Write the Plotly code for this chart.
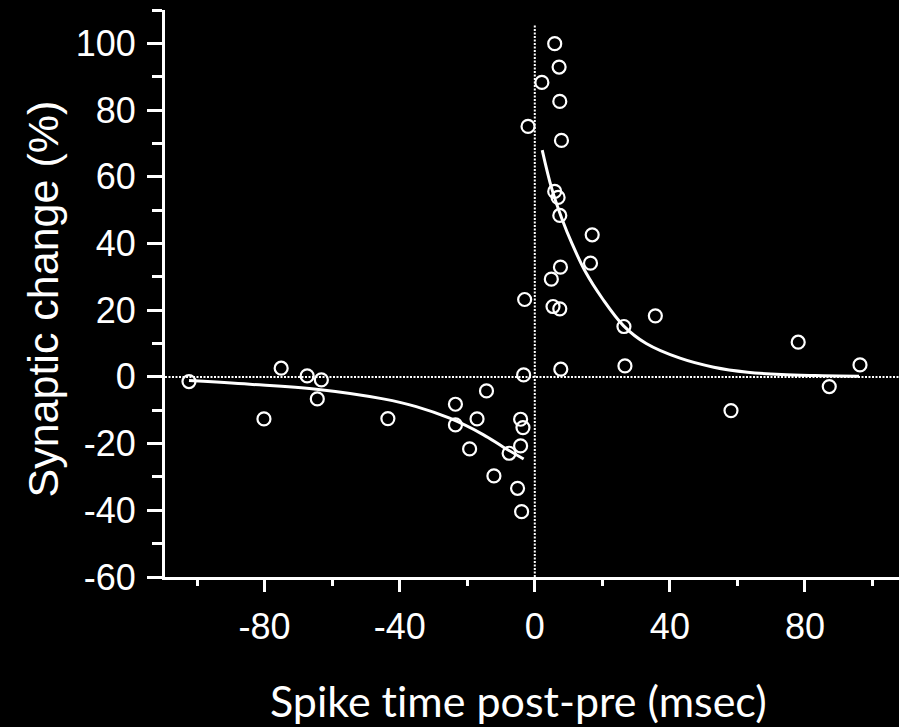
import plotly.graph_objects as go

# Data points (spike time post-pre in ms, synaptic change in %)
pts_x = [-102.4, -80.2, -75.1, -67.4, -64.4, -63.2, -43.5, -23.5, -23.5, -19.3,
         -17.1, -14.3, -12.1, -7.6, -5.1, -4.2, -4.2, -3.5, -3.9, -3.3, -3.0, -2.0,
         2.1, 5.9, 7.2, 7.4, 7.9, 5.9, 6.9, 7.4, 17.0, 16.5, 7.6, 4.9, 5.4, 7.4,
         7.7, 26.4, 26.7, 35.7, 58.1, 78.0, 87.2, 96.3]
pts_y = [-1.4, -12.6, 2.6, 0.3, -6.6, -0.9, -12.5, -8.2, -14.4, -21.6,
         -12.6, -4.2, -29.7, -22.9, -33.4, -20.7, -12.7, -15.2, -40.4, 0.6, 23.2, 75.1,
         88.3, 99.9, 92.9, 82.6, 70.9, 55.6, 53.8, 48.4, 42.6, 34.1, 32.9, 29.3, 21.1, 20.4,
         2.3, 15.1, 3.3, 18.3, -10.1, 10.4, -2.9, 3.6]

# Fitted curves
ltd_x = [-102.4, -84.4, -64.7, -44.9, -35.1, -25.2, -15.3, -9.4, -3.3]
ltd_y = [-1.1, -2.2, -3.7, -6.6, -8.9, -12.4, -17.3, -21.0, -24.6]
ltp_x = [2.2, 5.0, 8.0, 11.0, 15.0, 20.0, 26.3, 33.0, 43.0, 53.0, 63.0, 73.0, 83.0, 96.0]
ltp_y = [68.0, 56.5, 47.5, 40.0, 31.5, 23.5, 15.3, 10.0, 5.6, 2.9, 1.4, 0.7, 0.4, 0.2]

x_major = [-80, -40, 0, 40, 80]
x_labels = ["-80", "-40", "0", "40", "80"]
x_minor = [-100, -60, -20, 20, 60, 100]
y_major = [-60, -40, -20, 0, 20, 40, 60, 80, 100]
y_labels = ["-60", "-40", "-20", "0", "20", "40", "60", "80", "100"]
y_minor = [-50, -30, -10, 10, 30, 50, 70, 90, 110]

x_range = [-109.5, 107.85]
y_range = [-60, 110]

fig = go.Figure()

# reference dotted lines
fig.add_trace(go.Scatter(x=[x_range[0], x_range[1]], y=[0, 0], mode="lines",
                         line=dict(color="white", width=2, dash="2px,1.5px"),
                         hoverinfo="skip", showlegend=False))
fig.add_trace(go.Scatter(x=[0, 0], y=[y_range[0], 105.6], mode="lines",
                         line=dict(color="white", width=2, dash="2px,1.5px"),
                         hoverinfo="skip", showlegend=False))

fig.add_trace(go.Scatter(x=ltd_x, y=ltd_y, mode="lines", line=dict(color="white", width=3, shape="spline"),
                         showlegend=False))
fig.add_trace(go.Scatter(x=ltp_x, y=ltp_y, mode="lines", line=dict(color="white", width=3, shape="spline"),
                         showlegend=False))

fig.add_trace(go.Scatter(x=pts_x, y=pts_y, mode="markers",
                         marker=dict(symbol="circle-open", size=13, color="white", line=dict(width=2.2)),
                         showlegend=False))

tickfont = dict(family="Liberation Sans, Arial, sans-serif", size=36, color="white")

fig.update_xaxes(range=x_range, showgrid=False, zeroline=False, showline=True,
                 linecolor="white", linewidth=3, ticks="outside", tickcolor="white",
                 ticklen=12, tickwidth=2.5, tickvals=x_major, ticktext=x_labels, tickfont=tickfont,
                 minor=dict(ticks="outside", tickvals=x_minor,
                            ticklen=6, tickwidth=2.5, tickcolor="white"),
                 ticklabelstandoff=4)
fig.update_yaxes(range=y_range, showgrid=False, zeroline=False, showline=True,
                 linecolor="white", linewidth=3, ticks="outside", tickcolor="white",
                 ticklen=15, tickwidth=2.5, tickvals=y_major, ticktext=y_labels, tickfont=tickfont,
                 minor=dict(ticks="outside", tickvals=y_minor,
                            ticklen=10, tickwidth=2.5, tickcolor="white"),
                 ticklabelstandoff=4)

fig.add_annotation(text="Synaptic change (%)", xref="paper", yref="paper",
                   x=0, y=0.5, xshift=-123, yshift=-6, textangle=-90, showarrow=False,
                   xanchor="center", yanchor="middle",
                   font=dict(family="Liberation Sans, Arial, sans-serif", size=43, color="white"))
fig.add_annotation(text="Spike t\u200cime post-pre (msec)", xref="paper", yref="paper",
                   x=0.481, y=0, yshift=-123, showarrow=False,
                   xanchor="center", yanchor="middle",
                   font=dict(family="Lato, sans-serif", size=43, color="white"))

fig.update_layout(width=899, height=727, margin=dict(l=165, r=0, t=10, b=150),
                  paper_bgcolor="black", plot_bgcolor="black", showlegend=False)

fig.write_html("out.html")
